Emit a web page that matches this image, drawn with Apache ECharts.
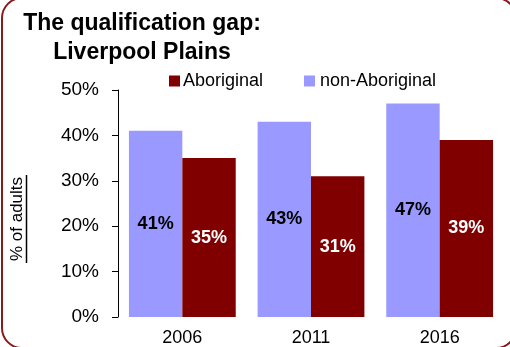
<!DOCTYPE html>
<html>
<head>
<meta charset="utf-8">
<script src="https://cdn.jsdelivr.net/npm/echarts@6/dist/echarts.min.js"></script>
<style>
  html, body { margin: 0; padding: 0; background: #fff; }
  #chart { width: 510px; height: 347px; }
</style>
</head>
<body>
<div id="chart"></div>
<script>
// Census years and qualification rates (% of adults)
const years = ['2006', '2011', '2016'];
const nonAboriginal = [41, 43, 47];
const aboriginal = [35, 31, 39];
const seriesNames = ['non-Aboriginal', 'Aboriginal'];
const legendOrder = ['Aboriginal', 'non-Aboriginal'];
const titleText = 'The qualification gap:\nLiverpool Plains';
const yAxisTitle = '% of adults';

const FONT = '"Liberation Sans", Arial, Helvetica, sans-serif';
const BLUE = '#9999ff';
const MAROON = '#800000';

const chart = echarts.init(document.getElementById('chart'));

chart.setOption({
  animation: false,
  backgroundColor: '#ffffff',
  textStyle: { fontFamily: FONT },
  title: {
    text: titleText,
    left: 142,
    top: 9,
    textAlign: 'center',
    padding: 0,
    textStyle: {
      fontFamily: FONT,
      fontSize: 23,
      fontWeight: 'bold',
      color: '#000',
      lineHeight: 29
    }
  },
  legend: [
    {
      data: [legendOrder[0]],
      left: 169, top: 72, padding: 0,
      itemWidth: 11, itemHeight: 11,
      icon: 'rect',
      textStyle: { fontFamily: FONT, fontSize: 18, color: '#000', padding: [0, 0, 0, -2] }
    },
    {
      data: [legendOrder[1]],
      left: 304, top: 72, padding: 0,
      itemWidth: 11, itemHeight: 11,
      icon: 'rect',
      textStyle: { fontFamily: FONT, fontSize: 18, color: '#000', padding: [0, 0, 0, 0] }
    }
  ],
  grid: { left: 118, right: 6, top: 90, bottom: 29, containLabel: false },
  xAxis: {
    type: 'category',
    data: years,
    axisLine: { show: false },
    axisTick: { show: false },
    axisLabel: { fontFamily: FONT, fontSize: 18, color: '#000', margin: 12 }
  },
  yAxis: {
    type: 'value',
    min: 0, max: 50, interval: 10,
    axisLine: { show: true, lineStyle: { color: '#000', width: 1 } },
    axisTick: { show: true, length: 6, lineStyle: { color: '#000' } },
    splitLine: { show: false },
    axisLabel: { fontFamily: FONT, fontSize: 19, color: '#000', margin: 19, formatter: '{value}%' }
  },
  series: [
    {
      name: seriesNames[0],
      type: 'bar',
      data: nonAboriginal,
      barGap: '0%',
      barCategoryGap: '17%',
      itemStyle: { color: BLUE },
      label: {
        show: true, position: 'inside', formatter: '{c}%',
        fontFamily: FONT, fontSize: 18, fontWeight: 'bold', color: '#000'
      }
    },
    {
      name: seriesNames[1],
      type: 'bar',
      data: aboriginal,
      barGap: '0%',
      barCategoryGap: '17%',
      itemStyle: { color: MAROON },
      label: {
        show: true, position: 'inside', formatter: '{c}%',
        fontFamily: FONT, fontSize: 18, fontWeight: 'bold', color: '#fff'
      }
    }
  ],
  graphic: [
    {
      // rounded frame; its top and right edges run just past the canvas
      type: 'rect',
      shape: { x: 2, y: -2, width: 514, height: 350, r: 20 },
      style: { fill: 'none', stroke: '#8b1a1a', lineWidth: 2 },
      silent: true
    },
    {
      type: 'text',
      x: 17, y: 219,
      rotation: Math.PI / 2,
      style: {
        text: yAxisTitle,
        fontFamily: FONT, fontSize: 17, fill: '#000',
        align: 'center', verticalAlign: 'middle'
      },
      silent: true
    },
    {
      type: 'line',
      shape: { x1: 26.5, y1: 175, x2: 26.5, y2: 263 },
      style: { stroke: '#000', lineWidth: 1.5 },
      silent: true
    }
  ]
});
</script>
</body>
</html>
